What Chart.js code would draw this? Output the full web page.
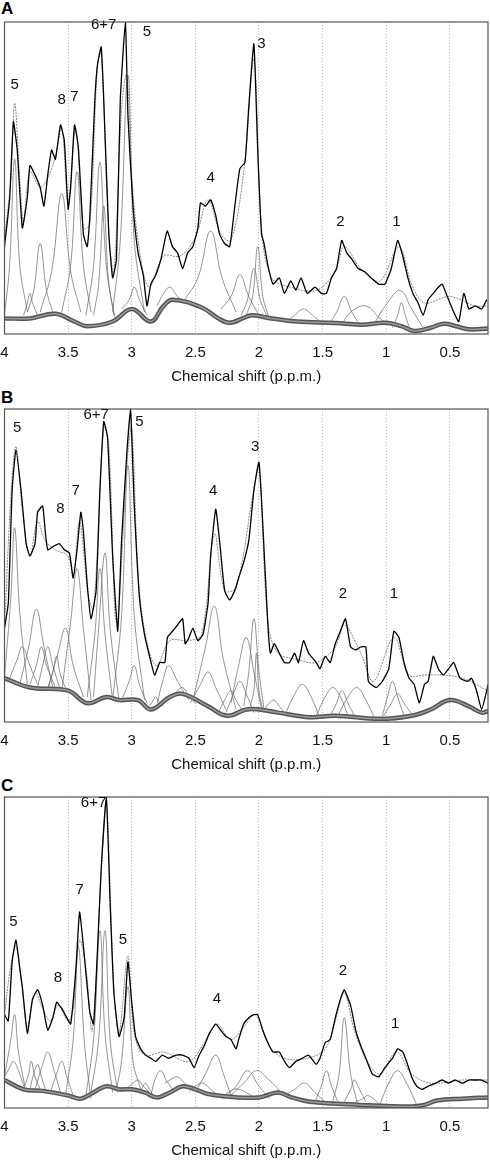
<!DOCTYPE html>
<html><head><meta charset="utf-8">
<script src="https://cdn.jsdelivr.net/npm/chart.js@4/dist/chart.umd.min.js"></script>
<style>
body{margin:0;background:#fff;width:490px;height:1160px;position:relative;overflow:hidden;font-family:"Liberation Sans",Arial,sans-serif}
.p{position:absolute;left:0;width:490px}
.lab{position:absolute;left:1px;font-weight:bold;font-size:17px}
</style></head><body>
<div class="lab" style="top:-1px">A</div>
<div class="lab" style="top:388px">B</div>
<div class="lab" style="top:776px">C</div>
<div class="p" style="top:0;height:386px"><canvas id="cA"></canvas></div>
<div class="p" style="top:388px;height:386px"><canvas id="cB"></canvas></div>
<div class="p" style="top:776px;height:384px"><canvas id="cC"></canvas></div>
<script>
const tickPpm=[4,3.5,3,2.5,2,1.5,1,0.5];
// ---- Panel A ----
const specA=[[4.0,28],[3.96,43],[3.93,68],[3.90,59],[3.86,34],[3.82,44],[3.80,54],[3.76,51],[3.72,47],[3.69,41],[3.66,51],[3.63,59],[3.60,56],[3.56,67],[3.53,62],[3.50,40],[3.48,47],[3.45,67],[3.42,60],[3.38,32],[3.35,28],[3.33,37],[3.29,75],[3.27,86],[3.24,92],[3.22,75],[3.18,32],[3.15,18],[3.12,24],[3.09,75],[3.05,100],[3.03,70],[2.99,41],[2.95,26],[2.91,19],[2.88,9],[2.85,16],[2.81,19],[2.77,24],[2.74,30],[2.72,33],[2.68,28],[2.64,26],[2.60,21],[2.56,26],[2.52,28],[2.48,34],[2.46,42],[2.42,41],[2.38,43],[2.34,38],[2.31,32],[2.27,29],[2.23,28],[2.19,41],[2.15,53],[2.11,55],[2.08,73],[2.04,93],[2.01,59],[1.98,32],[1.96,29],[1.93,22],[1.89,16],[1.84,18],[1.80,13],[1.75,17],[1.71,14],[1.67,18],[1.62,13],[1.56,15],[1.51,13],[1.47,13],[1.43,18],[1.39,21],[1.35,30],[1.31,26],[1.27,24],[1.22,21],[1.17,20],[1.12,18],[1.06,16],[1.01,16],[0.96,21],[0.91,30],[0.87,25],[0.83,18],[0.79,13],[0.75,10],[0.71,6],[0.67,11],[0.63,13],[0.59,15],[0.56,16],[0.52,12],[0.48,8],[0.43,4],[0.39,13],[0.35,8],[0.30,9],[0.25,8],[0.21,11]];
const fitA=[[4.0,30],[3.95,50],[3.92,74],[3.88,50],[3.85,36],[3.80,52],[3.72,47],[3.66,50],[3.60,57],[3.55,66],[3.50,42],[3.44,66],[3.38,34],[3.33,35],[3.27,86],[3.24,90],[3.18,32],[3.14,20],[3.08,72],[3.04,83],[2.99,45],[2.92,22],[2.86,15],[2.75,25],[2.62,25],[2.50,31],[2.40,43],[2.30,32],[2.22,30],[2.12,52],[2.04,88],[1.98,34],[1.90,18],[1.75,15],[1.55,14],[1.40,20],[1.33,28],[1.20,21],[1.05,17],[0.90,28],[0.80,16],[0.70,10],[0.5,12],[0.3,9],[0.2,9]];
const baseA=[[4.0,5],[3.8,5],[3.6,6.5],[3.45,4],[3.35,2.5],[3.15,4],[3.0,8],[2.85,4],[2.75,9],[2.68,11],[2.45,8.5],[2.32,5],[2.23,3.6],[2.1,5.5],[2.05,6],[1.9,5],[1.7,4],[1.4,3.5],[1.2,3],[1.0,3.6],[0.88,2.5],[0.78,1],[0.65,2],[0.55,3.3],[0.45,2.5],[0.35,1.5],[0.2,1.8]];
const compA=[
[[4.0,6],[3.96,22],[3.92,56],[3.88,22],[3.82,7]],
[[3.82,7],[3.77,14],[3.72,29],[3.67,14],[3.62,7]],
[[3.85,6],[3.82,10],[3.80,13],[3.78,10],[3.74,6]],
[[3.72,7],[3.63,20],[3.55,45],[3.48,20],[3.40,7]],
[[3.55,7],[3.48,22],[3.43,52],[3.38,22],[3.32,7]],
[[3.36,6],[3.30,22],[3.25,55],[3.20,22],[3.14,6]],
[[3.30,6],[3.26,16],[3.22,41],[3.18,16],[3.13,5]],
[[3.15,7],[3.09,30],[3.03,83],[2.98,30],[2.90,7]],
[[3.08,8],[3.02,11],[2.98,15],[2.94,11],[2.88,6]],
[[2.80,9],[2.75,13],[2.70,15],[2.64,12],[2.58,10]],
[[2.60,10],[2.48,18],[2.38,33],[2.29,18],[2.18,7]],
[[2.30,8],[2.22,12],[2.15,19],[2.08,12],[2.00,6]],
[[2.14,6],[2.09,11],[2.04,21],[1.99,11],[1.94,6]],
[[2.10,6],[2.05,12],[2.01,28],[1.97,12],[1.92,5]],
[[1.78,4],[1.72,6],[1.65,8],[1.58,6],[1.52,4]],
[[1.45,3],[1.39,7],[1.33,12],[1.27,7],[1.21,3]],
[[1.35,3],[1.28,7],[1.16,9],[1.05,5],[0.98,3]],
[[1.10,3],[0.99,10],[0.89,14],[0.80,8],[0.71,2]],
[[0.95,2],[0.91,6],[0.88,10],[0.85,6],[0.81,1]]];
const lblA=[["5",3.92,80],["8",3.55,75],["7",3.45,76],["6+7",3.22,99],["5",2.88,97],["3",1.98,93],["4",2.38,50],["2",1.36,36],["1",0.92,36]];
// ---- Panel B ----
const specB=[[4.0,30],[3.97,38],[3.94,74],[3.91,87],[3.87,74],[3.83,57],[3.80,53],[3.76,57],[3.74,67],[3.70,69],[3.68,61],[3.66,55],[3.62,56],[3.57,57],[3.53,55],[3.49,54],[3.46,46],[3.43,55],[3.40,67],[3.38,61],[3.35,44],[3.32,33],[3.28,42],[3.25,74],[3.22,96],[3.19,91],[3.15,53],[3.11,29],[3.08,58],[3.04,85],[3.01,100],[2.98,69],[2.94,40],[2.90,28],[2.86,21],[2.82,15],[2.78,19],[2.74,19],[2.72,27],[2.68,29],[2.64,31],[2.60,33],[2.58,25],[2.55,27],[2.52,30],[2.48,26],[2.44,28],[2.40,38],[2.38,53],[2.34,68],[2.31,58],[2.27,42],[2.23,39],[2.19,42],[2.16,46],[2.12,51],[2.08,58],[2.04,74],[2.00,83],[1.97,63],[1.93,31],[1.91,22],[1.88,25],[1.84,22],[1.80,19],[1.76,19],[1.72,22],[1.69,19],[1.65,26],[1.61,22],[1.55,19],[1.52,17],[1.48,21],[1.44,19],[1.40,25],[1.36,29],[1.32,33],[1.28,24],[1.24,23],[1.20,24],[1.16,24],[1.14,13],[1.08,11],[1.03,13],[0.98,17],[0.94,29],[0.90,27],[0.86,19],[0.82,14],[0.78,12],[0.74,6],[0.70,12],[0.67,13],[0.63,21],[0.59,17],[0.55,15],[0.51,17],[0.47,19],[0.42,14],[0.36,13],[0.33,14],[0.29,10],[0.25,4],[0.21,10],[0.2,12]];
const fitB=[[4.0,30],[3.95,72],[3.91,88],[3.86,68],[3.80,53],[3.74,64],[3.68,58],[3.60,55],[3.50,53],[3.46,46],[3.41,64],[3.34,40],[3.30,36],[3.22,94],[3.18,88],[3.12,32],[3.03,86],[3.00,94],[2.94,42],[2.86,22],[2.80,18],[2.70,26],[2.55,26],[2.45,28],[2.35,60],[2.27,42],[2.18,43],[2.05,72],[2.00,82],[1.93,32],[1.85,22],[1.70,20],[1.55,19],[1.40,24],[1.33,31],[1.20,22],[1.10,13],[0.94,27],[0.82,15],[0.70,15],[0.55,15],[0.40,14],[0.2,10]];
const baseB=[[4.0,14],[3.8,11],[3.5,10],[3.35,6],[3.2,8],[3.1,7],[2.95,7],[2.85,4],[2.7,8],[2.6,9],[2.4,5],[2.25,2],[2.1,4],[2.0,4],[1.85,3],[1.6,1.5],[1.4,2],[1.05,1],[0.8,2],[0.65,4],[0.5,7],[0.35,5],[0.25,3],[0.2,3.5]];
const compB=[
[[4.0,14],[3.95,40],[3.92,62],[3.88,35],[3.82,12]],
[[3.96,14],[3.90,20],[3.86,24],[3.80,18],[3.74,12]],
[[3.88,12],[3.81,24],[3.75,36],[3.69,24],[3.62,11]],
[[3.80,12],[3.75,18],[3.71,24],[3.67,18],[3.60,11]],
[[3.74,11],[3.70,18],[3.66,24],[3.62,18],[3.56,10]],
[[3.66,11],[3.62,16],[3.59,21],[3.56,15],[3.51,10]],
[[3.66,10],[3.58,22],[3.52,30],[3.46,18],[3.38,8]],
[[3.55,10],[3.48,32],[3.43,49],[3.38,30],[3.32,7]],
[[3.35,8],[3.29,28],[3.25,49],[3.21,28],[3.15,7]],
[[3.30,8],[3.26,30],[3.21,54],[3.17,30],[3.10,7]],
[[3.15,7],[3.08,34],[3.03,82],[2.98,34],[2.90,7]],
[[3.08,7],[3.02,13],[2.98,18],[2.94,12],[2.88,6]],
[[2.86,5],[2.83,7],[2.81,8],[2.78,6],[2.75,5]],
[[2.80,6],[2.75,14],[2.71,18],[2.64,13],[2.55,7]],
[[2.68,8],[2.64,10],[2.60,11],[2.56,9],[2.50,6]],
[[2.54,6],[2.46,12],[2.40,16],[2.34,11],[2.26,4]],
[[2.52,7],[2.42,24],[2.35,37],[2.28,20],[2.18,4]],
[[2.32,3],[2.27,7],[2.22,10],[2.18,7],[2.12,3]],
[[2.26,3],[2.20,9],[2.15,13],[2.10,9],[2.04,3]],
[[2.22,6],[2.16,18],[2.10,27],[2.04,16],[1.98,4]],
[[2.12,5],[2.08,16],[2.04,33],[2.00,16],[1.96,4]],
[[2.07,5],[2.04,10],[2.02,22],[2.00,10],[1.97,4]],
[[1.96,4],[1.92,6],[1.88,7],[1.84,5],[1.80,3]],
[[1.80,2],[1.73,8],[1.66,12],[1.59,8],[1.52,1]],
[[1.55,2],[1.48,8],[1.42,11],[1.36,8],[1.30,2]],
[[1.44,2],[1.39,6],[1.35,10],[1.30,6],[1.25,2]],
[[1.38,2],[1.30,8],[1.23,11],[1.16,7],[1.09,1]],
[[1.03,2],[0.99,8],[0.95,13],[0.91,8],[0.86,2]],
[[1.02,2],[0.96,6],[0.91,9],[0.86,6],[0.79,2]]];
const lblB=[["5",3.90,94],["6+7",3.28,98],["5",2.94,96],["7",3.44,74],["8",3.56,68],["4",2.36,74],["3",2.03,88],["2",1.34,41],["1",0.94,41]];
// ---- Panel C ----
const specC=[[4.0,30],[3.97,28],[3.94,47],[3.91,54],[3.88,45],[3.86,39],[3.82,24],[3.78,35],[3.74,38],[3.70,33],[3.66,25],[3.62,29],[3.59,34],[3.55,32],[3.51,29],[3.48,27],[3.44,44],[3.41,63],[3.38,52],[3.33,31],[3.30,27],[3.27,50],[3.24,77],[3.20,100],[3.17,66],[3.14,37],[3.10,23],[3.06,29],[3.03,47],[3.00,34],[2.97,23],[2.93,19],[2.89,17],[2.85,16],[2.81,15],[2.76,17],[2.71,16],[2.65,17],[2.60,17],[2.55,16],[2.51,13],[2.47,17],[2.43,20],[2.39,24],[2.34,27],[2.30,25],[2.26,23],[2.22,22],[2.18,19],[2.16,22],[2.12,27],[2.08,29],[2.04,30],[2.01,30],[1.97,25],[1.93,21],[1.89,18],[1.84,18],[1.80,15],[1.76,13],[1.71,15],[1.66,16],[1.61,17],[1.55,14],[1.52,16],[1.48,21],[1.44,22],[1.40,29],[1.36,35],[1.33,38],[1.28,33],[1.24,25],[1.20,20],[1.16,16],[1.11,11],[1.06,10],[1.01,13],[0.95,16],[0.91,19],[0.87,18],[0.84,15],[0.80,10],[0.76,7],[0.72,6],[0.67,7],[0.61,8],[0.56,9],[0.51,8],[0.46,9],[0.40,8],[0.35,9],[0.30,9],[0.25,9],[0.2,8]];
const fitC=[[4.0,30],[3.95,46],[3.91,52],[3.86,38],[3.82,26],[3.76,37],[3.70,32],[3.64,28],[3.58,33],[3.50,28],[3.46,32],[3.41,54],[3.36,45],[3.31,25],[3.24,75],[3.20,99],[3.14,38],[3.10,24],[3.03,49],[2.98,24],[2.90,17],[2.75,18],[2.55,15],[2.40,23],[2.33,27],[2.22,22],[2.12,26],[2.03,30],[1.92,20],[1.80,16],[1.62,16],[1.48,19],[1.40,28],[1.33,37],[1.25,25],[1.15,15],[1.05,11],[0.92,18],[0.80,11],[0.65,8],[0.4,9],[0.2,9]];
const baseC=[[4.0,9],[3.85,6],[3.7,5.5],[3.5,4],[3.4,3],[3.3,5],[3.2,7],[3.1,6],[3.0,6],[2.9,5],[2.8,3.4],[2.7,5],[2.6,7],[2.5,6],[2.4,4.5],[2.2,3.5],[2.0,3.4],[1.85,5],[1.75,3.5],[1.6,2],[1.2,1],[0.8,0.5],[0.7,1],[0.6,2.4],[0.4,3],[0.2,3.4]];
const compC=[
[[4.0,10],[3.95,22],[3.92,30],[3.89,18],[3.84,7]],
[[4.0,10],[3.96,13],[3.93,15],[3.89,12],[3.84,6]],
[[3.85,6],[3.81,11],[3.79,15],[3.76,10],[3.72,6]],
[[3.80,6],[3.77,11],[3.74,14],[3.71,10],[3.67,5]],
[[3.76,6],[3.70,14],[3.66,18],[3.61,12],[3.56,5]],
[[3.64,5],[3.59,11],[3.55,15],[3.51,10],[3.46,4]],
[[3.52,4],[3.46,22],[3.42,52],[3.37,20],[3.32,3]],
[[3.36,4],[3.30,22],[3.25,57],[3.21,24],[3.15,5]],
[[3.32,5],[3.26,22],[3.21,57],[3.17,22],[3.11,5]],
[[3.12,6],[3.08,15],[3.03,39],[2.99,15],[2.93,6]],
[[3.05,6],[2.99,8],[2.95,9],[2.91,7],[2.86,5]],
[[2.94,5],[2.91,7],[2.89,8],[2.86,6],[2.83,4]],
[[2.85,4],[2.81,10],[2.77,12],[2.73,9],[2.68,6]],
[[2.74,8],[2.70,9],[2.64,10],[2.56,7],[2.48,5]],
[[2.55,5],[2.50,7],[2.44,8],[2.38,6],[2.32,4]],
[[2.50,5],[2.42,11],[2.34,17],[2.28,11],[2.22,4]],
[[2.28,4],[2.20,6],[2.16,6],[2.10,5],[2.02,3]],
[[2.28,3],[2.18,7],[2.09,12],[2.00,7],[1.92,3]],
[[2.25,3],[2.12,8],[2.02,12],[1.92,9],[1.80,4]],
[[1.80,4],[1.72,6],[1.64,8],[1.56,5],[1.48,2]],
[[1.56,2],[1.51,7],[1.47,12],[1.43,7],[1.38,2]],
[[1.42,2],[1.37,11],[1.33,29],[1.28,11],[1.23,2]],
[[1.33,2],[1.28,6],[1.25,9],[1.21,6],[1.16,2]],
[[1.24,2],[1.18,3],[1.15,4],[1.10,3],[1.05,1]],
[[1.05,1],[0.98,8],[0.91,12],[0.84,8],[0.76,1]]];
const lblC=[["5",3.93,60],["6+7",3.30,98],["7",3.41,70],["8",3.58,42],["5",3.07,54],["4",2.33,35],["2",1.34,44],["1",0.93,27]];

const panels=[
 {id:'cA',spec:specA,fit:fitA,base:baseA,comp:compA,lbl:lblA,top:22},
 {id:'cB',spec:specB,fit:fitB,base:baseB,comp:compB,lbl:lblB,top:21},
 {id:'cC',spec:specC,fit:fitC,base:baseC,comp:compC,lbl:lblC,top:21}];
const toXY=a=>a.map(p=>({x:p[0],y:p[1]}));
const FONT='"Liberation Sans",Arial';
const boxPlugin={id:'box',afterDraw(c){const a=c.chartArea,x=c.ctx,sx=c.scales.x,sy=c.scales.y;x.save();x.strokeStyle='#555';x.lineWidth=1.2;x.strokeRect(a.left,a.top,a.right-a.left,a.bottom-a.top);
 x.fillStyle='#111';x.font='15px '+FONT;x.textAlign='center';x.textBaseline='middle';
 c.options.plugins.box.lbl.forEach(l=>{x.fillText(l[0],sx.getPixelForValue(l[1]),sy.getPixelForValue(l[2]));});
 tickPpm.forEach(v=>x.fillText(String(v),sx.getPixelForValue(v),a.bottom+19));
 x.restore();}};
panels.forEach(P=>{
 const ds=[];
 P.comp.forEach(cp=>ds.push({data:toXY(cp),borderColor:'#666',borderWidth:0.7,tension:0.4,pointRadius:0,order:3}));
 ds.push({data:toXY(P.base),borderColor:'#555',borderWidth:4.5,tension:0.4,pointRadius:0,order:4});
 ds.push({data:toXY(P.base),borderColor:'#999',borderWidth:1.5,tension:0.4,pointRadius:0,order:2});
 ds.push({data:toXY(P.fit),borderColor:'#888',borderWidth:1,borderDash:[2,1],tension:0.35,pointRadius:0,order:1});
 ds.push({data:toXY(P.spec),borderColor:'#000',borderWidth:1.3,tension:0.15,pointRadius:0,order:0});
 new Chart(document.getElementById(P.id),{type:'line',data:{datasets:ds},plugins:[boxPlugin],
 options:{responsive:true,maintainAspectRatio:false,animation:false,layout:{padding:{left:4.5,right:2,top:P.top,bottom:0}},
 plugins:{legend:{display:false},tooltip:{enabled:false},box:{lbl:P.lbl}},
 scales:{x:{type:'linear',reverse:true,min:0.2,max:4,
  afterBuildTicks:s=>{s.ticks=tickPpm.map(v=>({value:v}));},
  ticks:{display:false},
  grid:{color:'#bbb',lineWidth:1,drawTicks:false},border:{display:false,dash:[1,2]},
  title:{display:true,text:'Chemical shift (p.p.m.)',color:'#111',font:{size:15,family:FONT},padding:{top:34,bottom:0}}},
 y:{display:false,min:0,max:100}}}});
});
</script></body></html>
